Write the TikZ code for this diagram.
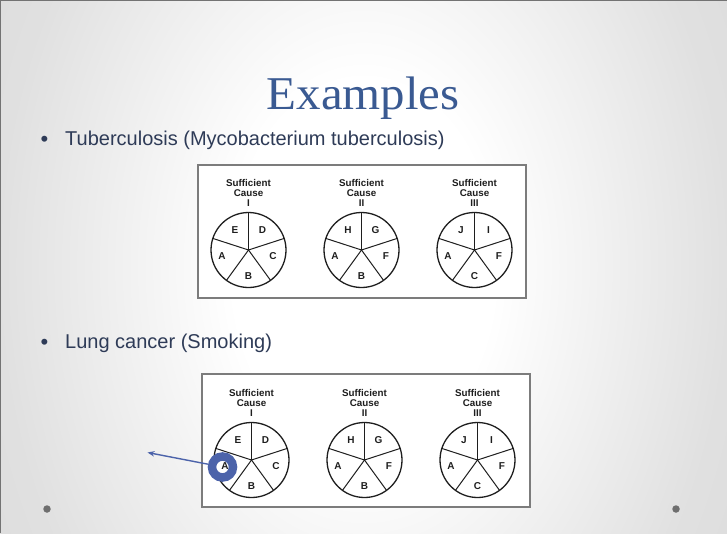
\documentclass[tikz,border=0pt]{standalone}
\usepackage{fontspec}
\setmainfont{Liberation Sans}
\newfontfamily\titlefont{Liberation Serif}
\usetikzlibrary{calc,arrows.meta}
\definecolor{titleblue}{HTML}{3A5A92}
\definecolor{bullettext}{HTML}{2E3B57}
\definecolor{ringblue}{HTML}{4C63AA}
\definecolor{framegray}{HTML}{7C7C7C}
\definecolor{dotgray}{HTML}{6E6E6E}
\definecolor{inkdark}{HTML}{1E1E1E}
\pgfdeclareradialshading{bgshade}{\pgfpoint{0bp}{0bp}}{color(0bp)=(white); color(9bp)=(white); color(25bp)=(black!12); color(35bp)=(black!15); color(50bp)=(black!15)}
\tikzset{
  titletext/.style={font=\titlefont\fontsize{47}{50}\selectfont, text=titleblue, inner sep=0},
  bulletmark/.style={font=\fontsize{22}{24}\selectfont, text=bullettext, inner sep=0},
  bullettxt/.style={font=\fontsize{20}{24}\selectfont, text=bullettext, inner sep=0},
  framebox/.style={draw=framegray, line width=1.4pt, fill=white, inner sep=0, outer sep=0},
  pietitle/.style={anchor=north, align=center, inner sep=0, font=\fontsize{9.8}{10}\selectfont\bfseries, text=inkdark},
  piecircle/.style={circle, draw=inkdark, line width=1.3pt, minimum size=75pt, inner sep=0, outer sep=0},
  spoke/.style={draw=inkdark, line width=1pt},
  pielabel/.style={inner sep=0, font=\fontsize{10}{11}\selectfont\bfseries, text=inkdark},
  ringspot/.style={circle, minimum size=30pt, inner sep=0, outer sep=0},
  ringline/.style={draw=ringblue, line width=8.5pt},
  pointer/.style={draw=ringblue, line width=1.4pt, -{Stealth[length=7pt,width=5.5pt]}},
  cornerdot/.style={circle, fill=dotgray, minimum size=7.5pt, inner sep=0},
  edgeline/.style={draw=black!55, line width=1pt}
}
\newcommand\causepie[9]{%
  \node[pietitle] (#1t) at (#2,#3-70.5) {Sufficient\\Cause\\#4};
  \node[piecircle] (#1) at (#2,#3) {};
  \foreach \ang in {90,18,-54,-126,162} {\draw[spoke] (#1.center) -- (#1.\ang);}
  \node[pielabel] (#1e) at ($(#1.center)+(-13.5,-19.5)$) {#5};
  \node[pielabel] (#1d) at ($(#1.center)+(14,-19.5)$) {#6};
  \node[pielabel] (#1c) at ($(#1.center)+(24.5,6)$) {#7};
  \node[pielabel] (#1b) at ($(#1.center)+(0,26.5)$) {#8};
  \node[pielabel] (#1a) at ($(#1.center)+(-26.5,6)$) {#9};
}
\begin{document}
\begin{tikzpicture}[x=1pt,y=-1pt]
\useasboundingbox (0,0) rectangle (727,533);
\begin{scope}
  \clip (0,0) rectangle (727,533);
  \shade[shading=bgshade] (0,-250) rectangle (727,783);
\end{scope}
\draw[edgeline] (0,0.5) -- (727,0.5);
\draw[edgeline] (0.5,0) -- (0.5,533);

\node[titletext, anchor=base] (title) at (363.3,109.3) {\scalebox{1.04}[1]{Examples}};

\node[bulletmark, anchor=base] (bul1) at (44.5,146) {•};
\node[bullettxt, anchor=base west] (txt1) at (65,145) {Tuberculosis (Mycobacterium tuberculosis)};
\node[bulletmark, anchor=base] (bul2) at (44.5,349) {•};
\node[bullettxt, anchor=base west] (txt2) at (65,348) {Lung cancer (Smoking)};

\node[framebox, minimum width=328pt, minimum height=133pt, anchor=north west] (box1) at (198,165) {};
\node[framebox, minimum width=328pt, minimum height=133pt, anchor=north west] (box2) at (202,374) {};

\causepie{p1}{248.5}{250}{I}{E}{D}{C}{B}{A}
\causepie{p2}{361.5}{250}{II}{H}{G}{F}{B}{A}
\causepie{p3}{474.5}{250}{III}{J}{I}{F}{C}{A}
\causepie{p4}{251.5}{460}{I}{E}{D}{C}{B}{A}
\causepie{p5}{364.5}{460}{II}{H}{G}{F}{B}{A}
\causepie{p6}{477.5}{460}{III}{J}{I}{F}{C}{A}

\node[ringspot] (ring) at ($(p4a.center)+(-2.5,1)$) {};
\draw[ringline] (ring.center) circle[radius=10.5pt];
\coordinate (tip) at (147.5,452.5);
\draw[pointer] (ring) -- (tip);

\node[cornerdot] (dotl) at (47,509) {};
\node[cornerdot] (dotr) at (676,509) {};
\end{tikzpicture}
\end{document}
